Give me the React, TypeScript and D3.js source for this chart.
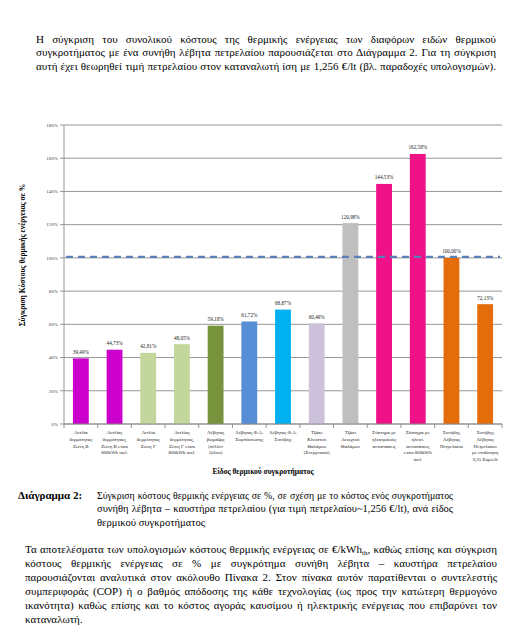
import React, { useEffect, useRef } from "react";
import * as d3 from "d3";

const categories: string[][] = [
  ["Αντλία", "θερμότητας", "Ζώνη Β"],
  ["Αντλίας", "θερμότητας,", "Ζώνη Β extra", "800kWh incl."],
  ["Αντλία", "θερμότητας", "Ζώνη Γ"],
  ["Αντλίας", "θερμότητας,", "Ζώνη Γ extra", "800kWh incl."],
  ["Λέβητας", "βιομάζας", "(πέλλετ", "ξύλου)"],
  ["Λέβητας Φ.Α.", "Συμπύκνωσης"],
  ["Λέβητας Φ.Α.", "Συνήθης"],
  ["Τζάκι", "Κλειστού", "Θαλάμου", "(Ενεργειακό)"],
  ["Τζάκι", "Ανοιχτού", "Θαλάμου"],
  ["Σύστημα με", "ηλεκτρικούς", "αντιστάσεις"],
  ["Σύστημα με", "ηλεκτ.", "αντιστάσεις", "extra 800kWh", "incl."],
  ["Συνήθης", "Λέβητας", "Πετρελαίου"],
  ["Συνήθης", "Λέβητας", "Πετρελαίου", "με επιδότηση", "0,35 Ευρώ/lt"],
];
const values: number[] = [39.49, 44.73, 42.81, 48.05, 59.18, 61.72, 68.87, 60.49, 120.98, 144.53, 162.58, 100.0, 72.13];
const barColors: string[] = [
  "#CC00CC", "#CC00CC", "#C3D69B", "#C3D69B", "#77933C", "#558ED5", "#00B0F0",
  "#CCC1DA", "#BFBFBF", "#EE1188", "#EE1188", "#E46C0A", "#E46C0A",
];
const yTicks: number[] = [0, 20, 40, 60, 80, 100, 120, 140, 160, 180];
const referenceValue = 100;

const topParagraph: string[] = [
  "Η σύγκριση του συνολικού κόστους της θερμικής ενέργειας των διαφόρων ειδών θερμικού",
  "συγκροτήματος με ένα συνήθη λέβητα πετρελαίου παρουσιάζεται στο Διάγραμμα 2. Για τη σύγκριση",
  "αυτή έχει θεωρηθεί τιμή πετρελαίου στον καταναλωτή ίση με 1,256 €/lt (βλ. παραδοχές υπολογισμών).",
];
const captionLabel = "Διάγραμμα 2:";
const captionLines: string[] = [
  "Σύγκριση κόστους θερμικής ενέργειας σε %, σε σχέση με το κόστος ενός συγκροτήματος",
  "συνήθη λέβητα – καυστήρα πετρελαίου (για τιμή πετρελαίου~1,256 €/lt), ανά είδος",
  "θερμικού συγκροτήματος",
];
const bottomParagraph: string[] = [
  "Τα αποτελέσματα των υπολογισμών κόστους θερμικής ενέργειας σε €/kWh_th, καθώς επίσης και σύγκριση",
  "κόστους θερμικής ενέργειας σε % με συγκρότημα συνήθη λέβητα – καυστήρα πετρελαίου",
  "παρουσιάζονται αναλυτικά στον ακόλουθο Πίνακα 2. Στον πίνακα αυτόν παρατίθενται ο συντελεστής",
  "συμπεριφοράς (COP) ή ο βαθμός απόδοσης της κάθε τεχνολογίας (ως προς την κατώτερη θερμογόνο",
  "ικανότητα) καθώς επίσης και το κόστος αγοράς καυσίμου ή ηλεκτρικής ενέργειας που επιβαρύνει τον",
  "καταναλωτή.",
];
const yAxisTitle = "Σύγκριση Κόστους θερμικής ενέργειας σε %";
const xAxisTitle = "Είδος θερμικού συγκροτήματος";

const W = 519;
const H = 634;
const SERIF = "'Liberation Serif', 'Times New Roman', serif";

function renderLine(s: string) {
  const parts = s.split("_th");
  if (parts.length === 1) return s;
  return (
    <>
      {parts[0]}
      <tspan fontSize={7} dy={2}>th</tspan>
      <tspan dy={-2}>{parts[1]}</tspan>
    </>
  );
}

export default function App() {
  const svgRef = useRef<SVGSVGElement>(null);

  useEffect(() => {
    if (!svgRef.current) return;
    d3.select(svgRef.current)
      .selectAll<SVGTextElement, unknown>("text.justify")
      .each(function () {
        const el = this;
        el.style.wordSpacing = "0px";
        const target = parseFloat(el.getAttribute("data-w") || "0");
        let natural = el.getComputedTextLength();
        if (natural > target) {
          const fs = parseFloat(el.getAttribute("font-size") || "11");
          const nfs = fs * (target / natural) * 0.985;
          el.setAttribute("font-size", String(nfs));
          natural = el.getComputedTextLength();
        }
        const spaces = (el.textContent || "").split(" ").length - 1;
        if (spaces > 0) {
          el.style.wordSpacing = `${(target - natural) / spaces}px`;
        }
      });
  }, []);

  const x0 = 64, x1 = 502, yTop = 125, yBot = 424;
  const x = d3.scaleBand<number>().domain(d3.range(values.length)).range([x0, x1]).paddingInner(0.53).paddingOuter(0.265);
  const y = d3.scaleLinear().domain([0, 180]).range([yBot, yTop]);
  const step = x.step();
  const fmt = (v: number) => v.toFixed(2).replace(".", ",") + "%";

  return (
    <svg ref={svgRef} width={W} height={H} style={{ position: "absolute", left: 0, top: 0, background: "#fff" }} fontFamily={SERIF}>
      <rect width={W} height={H} fill="#fff" />
      {/* top paragraph */}
      {topParagraph.map((l, i) => (
        <text key={"t" + i} className="justify" data-w={460} x={36} y={43 + i * 13.3} fontSize={11} fill="#000">{l}</text>
      ))}

      {/* gridlines */}
      {yTicks.map((t) => (
        <g key={"g" + t}>
          <line x1={x0} x2={x1} y1={y(t)} y2={y(t)} stroke="#8a8a8a" strokeWidth={0.9} />
          <line x1={x0 - 4} x2={x0} y1={y(t)} y2={y(t)} stroke="#8a8a8a" strokeWidth={0.9} />
          <text x={x0 - 6} y={y(t) + 1.8} fontSize={5} textAnchor="end" fill="#444">{t}%</text>
        </g>
      ))}
      <line x1={x0} x2={x0} y1={yTop} y2={yBot} stroke="#8a8a8a" strokeWidth={0.9} />
      {d3.range(values.length + 1).map((i) => (
        <line key={"xt" + i} x1={x0 + i * step} x2={x0 + i * step} y1={yBot} y2={yBot + 4} stroke="#8a8a8a" strokeWidth={0.9} />
      ))}

      {/* bars */}
      {values.map((v, i) => (
        <g key={"b" + i}>
          <rect x={x(i)} y={y(v)} width={x.bandwidth()} height={yBot - y(v)} fill={barColors[i]} />
          <text x={(x(i) as number) + x.bandwidth() / 2} y={y(v) - 4.5} fontSize={5.2} textAnchor="middle" fill="#222">{fmt(v)}</text>
        </g>
      ))}
      <line x1={x0} x2={x1} y1={yBot} y2={yBot} stroke="#8a8a8a" strokeWidth={0.9} />

      {/* reference dashed line */}
      <line x1={x0 + 2} x2={x1 - 2} y1={y(referenceValue) - 1} y2={y(referenceValue) - 1} stroke="#5A80BA" strokeWidth={2.4} strokeDasharray="7,5" />

      {/* category labels */}
      {categories.map((lines, i) => (
        <text key={"c" + i} fontSize={4.9} textAnchor="middle" fill="#222">
          {lines.map((l, j) => (
            <tspan key={j} x={(x(i) as number) + x.bandwidth() / 2} y={434 + j * 6.8}>{l}</tspan>
          ))}
        </text>
      ))}

      {/* axis titles */}
      <text x={263} y={474} fontSize={7.5} fontWeight="bold" textAnchor="middle" fill="#000">{xAxisTitle}</text>
      <text transform={`translate(25,255) rotate(-90)`} fontSize={7.5} fontWeight="bold" textAnchor="middle" fill="#000">{yAxisTitle}</text>

      {/* caption */}
      <text x={18} y={499} fontSize={11} fontWeight="bold" fill="#000">{captionLabel}</text>
      {captionLines.map((l, i) => (
        <text key={"cap" + i} className={i < captionLines.length - 1 ? "justify" : ""} data-w={356} x={97} y={499 + i * 13.3} fontSize={i < captionLines.length - 1 ? 11 : 10.6} fill="#000">{l}</text>
      ))}

      {/* bottom paragraph */}
      {bottomParagraph.map((l, i) => (
        <text key={"bp" + i} className={i < bottomParagraph.length - 1 ? "justify" : ""} data-w={472} x={25} y={553 + i * 13.9} fontSize={11} fill="#000">{renderLine(l)}</text>
      ))}
    </svg>
  );
}
